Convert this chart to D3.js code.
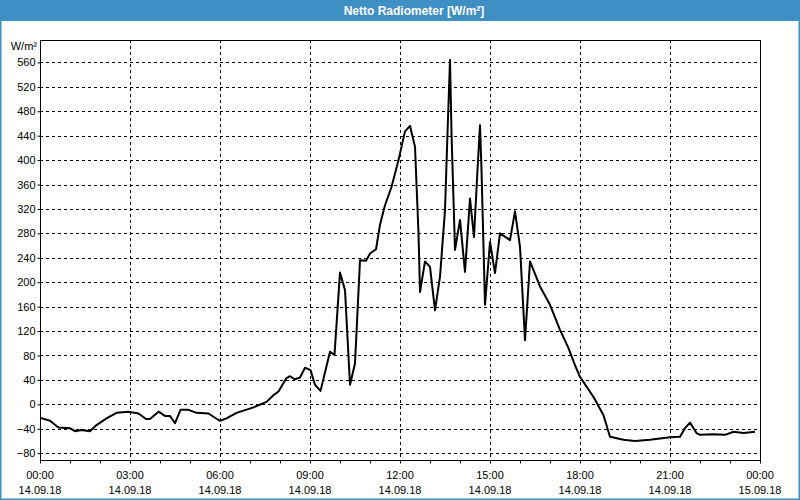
<!DOCTYPE html>
<html>
<head>
<meta charset="utf-8">
<script src="https://cdn.jsdelivr.net/npm/d3@7"></script>
<style>
  html, body { margin: 0; padding: 0; background: #ffffff; }
  svg { display: block; }
  text { font-family: "Liberation Sans", Arial, sans-serif; }
</style>
</head>
<body>
<svg id="chart" width="800" height="500"></svg>
<script>
const title = "Netto Radiometer [W/m²]";
const unitLabel = "W/m²";
const dayDate = "2018-09-14";
const times = ["00:00","00:20","00:37","01:00","01:10","01:23","01:40","01:53","02:13","02:33","02:57","03:17","03:32","03:40","03:57","04:10","04:20","04:30","04:41","04:57","05:13","05:37","05:50","06:00","06:13","06:33","07:07","07:33","07:47","07:57","08:13","08:20","08:30","08:40","08:50","09:01","09:10","09:21","09:40","09:49","10:00","10:10","10:20","10:30","10:40","10:52","11:00","11:12","11:20","11:30","11:43","11:57","12:10","12:20","12:30","12:37","12:40","12:50","13:00","13:10","13:20","13:30","13:35","13:40","13:43","13:50","14:00","14:10","14:20","14:28","14:35","14:40","14:43","14:50","15:00","15:10","15:20","15:40","15:50","16:00","16:10","16:20","16:40","17:00","17:20","17:37","17:50","18:00","18:27","18:47","19:00","19:27","19:50","20:20","20:40","21:00","21:20","21:30","21:40","21:53","22:00","22:27","22:50","23:07","23:27","23:50"];
const values = [-22,-27,-38,-39,-44,-42,-44,-34,-23,-14,-12,-15,-24,-24,-12,-19,-19,-31,-9,-9,-14,-15,-22,-27,-23,-14,-5,4,15,21,43,46,41,44,60,56,32,22,86,81,216,187,32,67,236,235,247,254,294,326,356,400,447,456,422,280,184,234,225,154,209,318,444,564,444,253,302,217,337,274,384,457,384,163,266,215,280,269,316,258,105,234,193,163,122,92,64,45,12,-18,-53,-58,-60,-58,-56,-54,-53,-39,-30,-47,-50,-49,-50,-45,-47,-45];
const yTicks = [-80,-40,0,40,80,120,160,200,240,280,320,360,400,440,480,520,560];
const xTickTimes = ["2018-09-14 00:00","2018-09-14 03:00","2018-09-14 06:00","2018-09-14 09:00","2018-09-14 12:00","2018-09-14 15:00","2018-09-14 18:00","2018-09-14 21:00","2018-09-15 00:00"];
const xTimeLabels = ["00:00","03:00","06:00","09:00","12:00","15:00","18:00","21:00","00:00"];
const xDateLabels = ["14.09.18","14.09.18","14.09.18","14.09.18","14.09.18","14.09.18","14.09.18","14.09.18","15.09.18"];

const parse = d3.utcParse("%Y-%m-%d %H:%M");
const data = times.map((t, i) => ({ t: parse(dayDate + " " + t), v: values[i] }));
const tickDates = xTickTimes.map(parse);

const svg = d3.select("#chart");
const W = 800, H = 500;
const m = { left: 40, right: 760, top: 40, bottom: 460 };

// title bar and frame
svg.append("rect").attr("x", 0).attr("y", 0).attr("width", W).attr("height", H).attr("fill", "#ffffff");
svg.append("rect").attr("x", 0).attr("y", 0).attr("width", W).attr("height", 21).attr("fill", "#3d8fc4");
svg.append("rect").attr("x", 0.5).attr("y", 0.5).attr("width", W - 1).attr("height", H - 1)
  .attr("fill", "none").attr("stroke", "#3d8fc4").attr("stroke-width", 2);
svg.append("text").attr("x", 414).attr("y", 14.5).attr("text-anchor", "middle")
  .attr("fill", "#ffffff").attr("font-size", "12px").attr("font-weight", "bold").text(title);

const x = d3.scaleUtc().domain([tickDates[0], tickDates[tickDates.length - 1]]).range([m.left, m.right]);
const y = d3.scaleLinear().domain([-91.2, 596.7]).range([m.bottom, m.top]);

// horizontal grid
svg.append("g").selectAll("line").data(yTicks).join("line")
  .attr("x1", m.left).attr("x2", m.right)
  .attr("y1", d => Math.round(y(d)) + 0.5).attr("y2", d => Math.round(y(d)) + 0.5)
  .attr("stroke", "#000").attr("stroke-width", 1).attr("stroke-dasharray", "3,3");

// vertical grid
svg.append("g").selectAll("line").data(tickDates.slice(1, -1)).join("line")
  .attr("x1", d => Math.round(x(d)) + 0.5).attr("x2", d => Math.round(x(d)) + 0.5)
  .attr("y1", m.top).attr("y2", m.bottom)
  .attr("stroke", "#000").attr("stroke-width", 1).attr("stroke-dasharray", "3,3");

// Y axis
const yAxis = d3.axisLeft(y).tickValues(yTicks).tickSize(3).tickPadding(2).tickFormat(d3.format("d"));
const gy = svg.append("g").attr("transform", `translate(${m.left + 0.5},0)`).call(yAxis);
gy.select(".domain").remove();
gy.selectAll("text").attr("font-size", "11px").attr("fill", "#000").attr("font-family", "Liberation Sans, Arial, sans-serif");
gy.selectAll("line").attr("stroke", "#000");

// X axis hourly ticks
const xAxis = d3.axisBottom(x).ticks(d3.utcHour.every(1)).tickSize(3).tickFormat("");
const gx = svg.append("g").attr("transform", `translate(0,${m.bottom + 0.5})`).call(xAxis);
gx.select(".domain").remove();
gx.selectAll("line").attr("stroke", "#000");

// X labels two lines
const xl = svg.append("g").selectAll("g").data(tickDates).join("g")
  .attr("transform", d => `translate(${x(d)},0)`);
xl.append("text").attr("y", 479).attr("text-anchor", "middle").attr("font-size", "11px").attr("fill", "#000")
  .text((d, i) => xTimeLabels[i]);
xl.append("text").attr("y", 494).attr("text-anchor", "middle").attr("font-size", "11px").attr("fill", "#000")
  .text((d, i) => xDateLabels[i]);

// unit label
svg.append("text").attr("x", 37).attr("y", 50).attr("text-anchor", "end").attr("font-size", "11px").attr("fill", "#000").text(unitLabel);

// plot border
svg.append("rect").attr("x", m.left + 0.5).attr("y", m.top + 0.5)
  .attr("width", m.right - m.left).attr("height", m.bottom - m.top)
  .attr("fill", "none").attr("stroke", "#000").attr("stroke-width", 1);

// data line
const line = d3.line().x(d => x(d.t)).y(d => y(d.v));
svg.append("path").datum(data).attr("d", line)
  .attr("fill", "none").attr("stroke", "#000").attr("stroke-width", 2).attr("stroke-linejoin", "round");
</script>
</body>
</html>
